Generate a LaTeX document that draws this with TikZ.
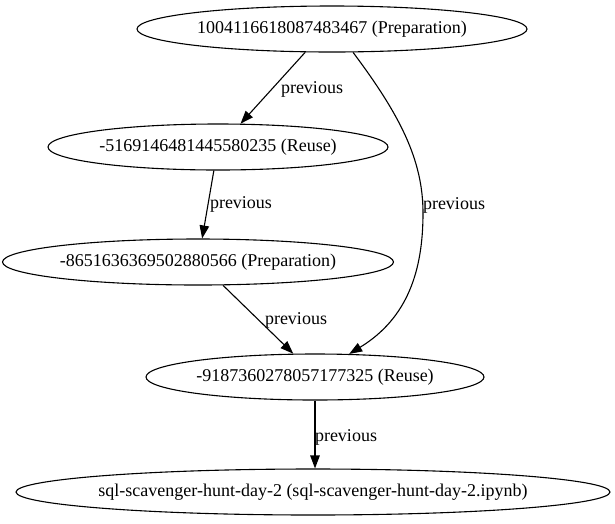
\documentclass[tikz,border=0pt]{standalone}
\usepackage{fontspec}
\setmainfont{Liberation Serif}
\usetikzlibrary{shapes.geometric,arrows.meta}
\begin{document}
\begin{tikzpicture}[x=1pt,y=1pt,
  every node/.style={font=\fontsize{18}{22}\selectfont},
  gnode/.style={draw,ellipse,inner sep=0pt,minimum height=46pt,line width=1.1pt},
  edge/.style={draw,line width=1.1pt,-{Triangle[length=13pt,width=9.5pt]}},
  elabel/.style={inner sep=0pt}]
\useasboundingbox (0,0) rectangle (615,-523);
\node[gnode,minimum width=390pt] (A) at (332,-29) {1004116618087483467 (Preparation)};
\node[gnode,minimum width=340pt] (B) at (218,-147) {-5169146481445580235 (Reuse)};
\node[gnode,minimum width=386pt] (C) at (198,-262) {-8651636369502880566 (Preparation)};
\node[gnode,minimum width=338pt] (D) at (315,-377) {-9187360278057177325 (Reuse)};
\node[gnode,minimum width=594pt,inner xsep=-12pt] (E) at (313,-492) {sql-scavenger-hunt-day-2 (sql-scavenger-hunt-day-2.ipynb)};
\draw[edge] (A.221.5) -- (B.46.3);
\draw[edge] (B.260) -- (C.80);
\draw[edge] (C.317.4) -- (D.133.7);
\draw[edge] (A.312.4) .. controls (400,-115) and (423,-160) .. (423,-213)
  .. controls (423,-270) and (408,-318) .. (D.34.9);
\draw[edge] (D.south) -- (D.south |- E.north);
\node[elabel] (l1) at (312,-89) {previous};
\node[elabel] (l2) at (241,-204) {previous};
\node[elabel] (l3) at (296,-320) {previous};
\node[elabel] (l4) at (454,-205) {previous};
\node[elabel] (l5) at (346,-437) {previous};
\end{tikzpicture}
\end{document}
